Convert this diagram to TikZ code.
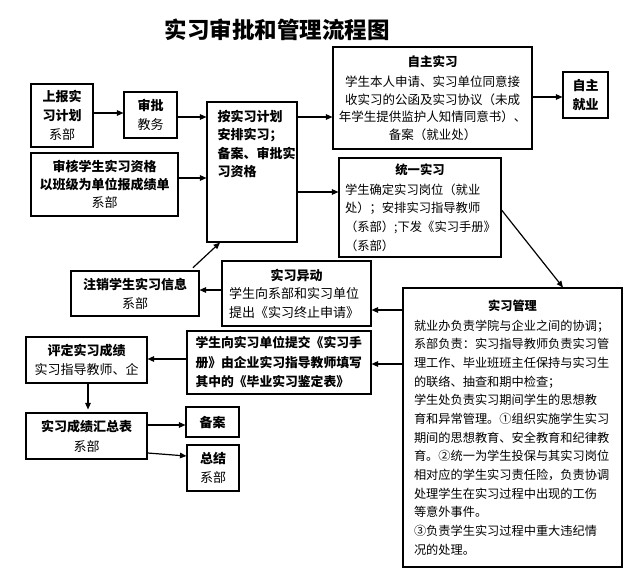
\documentclass[tikz,border=0pt]{standalone}
\usepackage{fontspec}
\setmainfont{Noto Sans CJK SC}
\usetikzlibrary{arrows.meta}
\begin{document}
\begin{tikzpicture}[x=1pt,y=-1pt,
  box/.style={draw,line width=1.1pt,inner sep=0pt,align=center},
  arr/.style={line width=1.2pt,-{Triangle[length=6.5pt,width=5.5pt]}},
  f13/.style={font=\fontsize{13pt}{19pt}\selectfont},
]
\fill[white] (0,0) rectangle (631,588);
\useasboundingbox (0,0) rectangle (631,588);

\node[font=\fontsize{22.5pt}{24pt}\selectfont\bfseries] (title) at (277,30) {实习审批和管理流程图};

\node[box,f13,minimum width=62pt,minimum height=63pt] (upbao) at (62,115.5) {\textbf{上报实}\\\textbf{习计划}\\系部};
\node[box,f13,minimum width=53pt,minimum height=46pt] (shenpi) at (150.5,115) {\textbf{审批}\\教务};
\node[box,minimum width=90pt,minimum height=140pt] (an) at (252,172) {};
\node[anchor=north west,align=left,inner sep=0pt,xshift=11pt,yshift=-8.5pt,font=\fontsize{13pt}{18.3pt}\selectfont\bfseries] (antext) at (an.north west) {按实习计划\\安排实习；\\备案、审批实\\习资格};

\node[box,minimum width=199pt,minimum height=102pt,font=\fontsize{12.5pt}{17.5pt}\selectfont] (zizhu) at (432.5,98) {\textbf{自主实习}\\[3pt]学生本人申请、实习单位同意接\\收实习的公函及实习协议（未成\\年学生提供监护人知情同意书）、\\备案（就业处）};
\node[box,f13,minimum width=45pt,minimum height=46pt] (jiuye) at (585.5,95) {\textbf{自主}\\\textbf{就业}};

\node[box,font=\fontsize{13pt}{18pt}\selectfont,minimum width=147pt,minimum height=63pt] (shenhe) at (104.5,184.5) {\textbf{审核学生实习资格}\\\textbf{以班级为单位报成绩单}\\系部};

\node[box,align=left,text width=150pt,minimum width=162pt,minimum height=99pt,font=\fontsize{12.3pt}{18.7pt}\selectfont] (tongyi) at (420,207.5) {\makebox[\hsize]{\textbf{统一实习}}\\[1pt]学生确定实习岗位（就业\\处）；安排实习指导教师\\（系部）;下发《实习手册》\\（系部）};

\node[box,f13,minimum width=128pt,minimum height=45pt] (zhuxiao) at (135,293.5) {\textbf{注销学生实习信息}\\系部};

\node[box,align=left,text width=135pt,minimum width=149pt,minimum height=65pt,font=\fontsize{13pt}{18.5pt}\selectfont] (yidong) at (296.5,293.5) {\makebox[\hsize]{\textbf{实习异动}}\\学生向系部和实习单位\\提出《实习终止申请》};

\node[box,align=left,text width=197pt,minimum width=219pt,minimum height=279pt,font=\fontsize{12.2pt}{18.67pt}\selectfont] (guanli) at (512.5,427.5) {\makebox[\hsize]{\textbf{实习管理}}\\[1pt]就业办负责学院与企业之间的协调；\\系部负责：实习指导教师负责实习管\\理工作、毕业班班主任保持与实习生\\的联络、抽查和期中检查；\\学生处负责实习期间学生的思想教\\育和异常管理。①组织实施学生实习\\期间的思想教育、安全教育和纪律教\\育。②统一为学生投保与其实习岗位\\相对应的学生实习责任险，负责协调\\处理学生在实习过程中出现的工伤\\等意外事件。\\③负责学生实习过程中重大违纪情\\况的处理。};

\node[box,align=left,text width=167pt,minimum width=184pt,minimum height=63pt,font=\fontsize{12.8pt}{19.5pt}\selectfont\bfseries] (tijiao) at (279,362.5) {学生向实习单位提交《实习手\\册》由企业实习指导教师填写\\其中的《毕业实习鉴定表》};

\node[box,f13,minimum width=121pt,minimum height=46pt] (pingding) at (86.5,360) {\textbf{评定实习成绩}\\实习指导教师、企};
\node[box,font=\fontsize{13pt}{20pt}\selectfont,minimum width=121pt,minimum height=46pt] (huizong) at (86.5,436) {\textbf{实习成绩汇总表}\\系部};
\node[box,f13,minimum width=53pt,minimum height=30pt] (beian) at (212.5,422) {\textbf{备案}};
\node[box,f13,minimum width=52pt,minimum height=46pt] (zongjie) at (213,468) {\textbf{总结}\\系部};

\draw[arr] (upbao.east |- 0,113) -- (shenpi.west |- 0,113);
\draw[arr] (shenpi.east |- 0,117) -- (an.west |- 0,117);
\draw[arr] (an.east |- 0,117) -- (zizhu.west |- 0,117);
\draw[arr] (zizhu.east |- 0,97) -- (jiuye.west |- 0,97);
\draw[arr] (shenhe.east |- 0,178) -- (an.west |- 0,178);
\draw[arr] (an.east |- 0,192) -- (tongyi.west |- 0,192);
\draw[arr] (tongyi.east |- 0,210) -- (563,0 |- guanli.north);
\draw[arr,shorten <=4pt] (190,0 |- zhuxiao.north) -- (220,0 |- an.south);
\draw[arr] (yidong.west |- 0,290) -- (zhuxiao.east |- 0,290);
\draw[arr] (guanli.west |- 0,310) -- (yidong.east |- 0,310);
\draw[arr] (guanli.west |- 0,364) -- (tijiao.east |- 0,364);
\draw[arr] (tijiao.west |- 0,359) -- (pingding.east |- 0,359);
\draw[arr,shorten >=3pt] (88,0 |- pingding.south) -- (88,0 |- huizong.north);
\draw[arr] (huizong.east |- 0,425) -- (beian.west |- 0,425);
\draw[arr] (huizong.east |- 0,453) -- (zongjie.west |- 0,456);
\end{tikzpicture}
\end{document}
